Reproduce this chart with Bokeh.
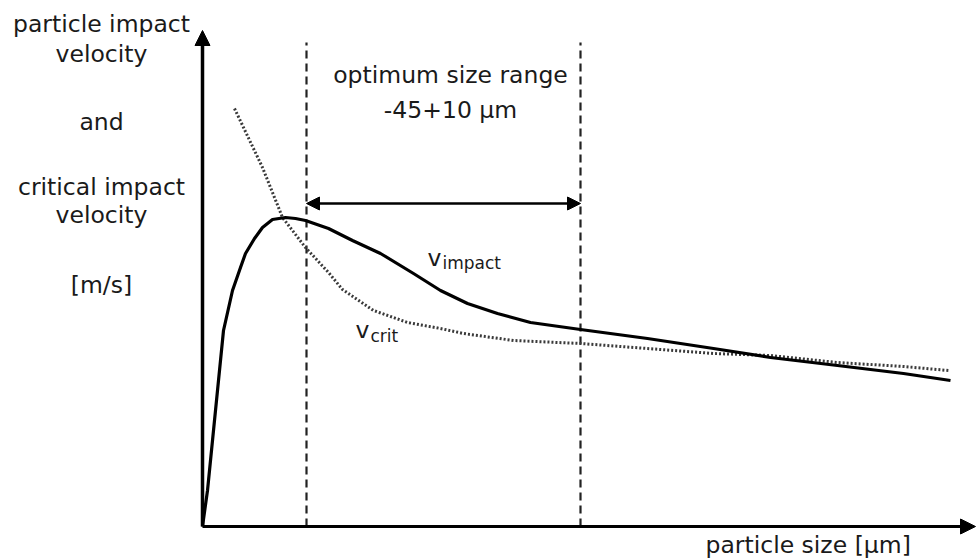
from bokeh.plotting import figure
from bokeh.models import Arrow, NormalHead
from bokeh.core.properties import value
from bokeh.embed import file_html
from bokeh.resources import INLINE

# ---- data (schematic, arbitrary units) ----
size_impact = [0, 5, 12, 21, 30, 38, 43, 52, 60, 70, 83, 93, 103, 126, 150, 178, 211,
               238, 265, 295, 328, 378, 445, 511, 568, 635, 701, 748]
v_impact = [0, 36, 106, 196, 236, 259, 273, 288, 299, 307, 309, 308, 306, 298, 286, 273,
            253, 236, 223, 213, 204, 197, 188, 178, 169, 161, 153, 146]

size_crit = [32, 60, 80, 103, 126, 140, 171, 205, 238, 261, 311, 378, 445, 511,
             568, 635, 701, 746]
v_crit = [418, 359, 309, 279, 254, 237, 216, 204, 198, 193, 186, 183, 178, 173,
          171, 164, 160, 156]

optimum_bounds = [104, 378]      # lower / upper limit of optimum size range
bounds_top = 484
range_arrow_level = 323
x_axis_end = 773
y_axis_end = 496

y_label_lines = ["particle impact", "velocity", "and", "critical impact", "velocity", "[m/s]"]
y_label_levels = [503, 473, 405, 340, 312, 242]
y_label_center = -101

range_text = ["optimum size range", "-45+10 µm"]
range_text_levels = [452, 417]
range_text_center = 248

x_label = "particle size [µm]"
x_label_pos = (503, -18)

v_label_x = [225, 153]
v_label_y = [269, 197]
sub_label_x = [240, 168]
sub_label_y = [264, 191]

FONT = value("DejaVu Sans")
TXT = "#1a1a1a"

p = figure(width=977, height=560, x_range=(-202, 775), y_range=(-34, 526),
           output_backend="svg", toolbar_location=None, min_border=0,
           x_axis_type=None, y_axis_type=None)
p.grid.visible = False
p.outline_line_color = None
p.background_fill_color = "white"
p.border_fill_color = "white"

# axes with arrowheads
p.add_layout(Arrow(end=NormalHead(size=15, fill_color="black", line_color="black"),
                   x_start=0, y_start=0, x_end=0, y_end=y_axis_end,
                   line_width=3.5, line_color="black"))
p.add_layout(Arrow(end=NormalHead(size=15, fill_color="black", line_color="black"),
                   x_start=0, y_start=0, x_end=x_axis_end, y_end=0,
                   line_width=3, line_color="black"))

# optimum size range boundaries
for xb in optimum_bounds:
    p.segment(x0=[xb], y0=[0], x1=[xb], y1=[bounds_top], line_color="#222222",
              line_width=2.2, line_dash="8 5")

# double-headed arrow
p.add_layout(Arrow(start=NormalHead(size=13, fill_color="black", line_color="black"),
                   end=NormalHead(size=13, fill_color="black", line_color="black"),
                   x_start=optimum_bounds[0], y_start=range_arrow_level,
                   x_end=optimum_bounds[1], y_end=range_arrow_level,
                   line_width=2.5, line_color="black"))

# curves
p.line(size_crit, v_crit, line_color="#3a3a3a", line_width=3, line_dash="2 2")
p.line(size_impact, v_impact, line_color="black", line_width=3.2, line_join="round")

# texts
p.text(x=[y_label_center] * len(y_label_lines), y=y_label_levels, text=y_label_lines,
       text_align="center", text_baseline="alphabetic", text_font=FONT,
       text_font_size="23.5px", text_color=TXT)
p.text(x=[range_text_center] * 2, y=range_text_levels, text=range_text,
       text_align="center", text_baseline="alphabetic", text_font=FONT,
       text_font_size="23.5px", text_color=TXT)
p.text(x=[x_label_pos[0]], y=[x_label_pos[1]], text=[x_label],
       text_align="left", text_baseline="alphabetic", text_font=FONT,
       text_font_size="23.5px", text_color=TXT)

# curve labels (v with subscript)
p.text(x=v_label_x, y=v_label_y, text=["v", "v"], text_align="left",
       text_baseline="alphabetic", text_font=FONT, text_font_size="23.5px",
       text_color=TXT)
p.text(x=sub_label_x, y=sub_label_y, text=["impact", "crit"], text_align="left",
       text_baseline="alphabetic", text_font=FONT, text_font_size="17px",
       text_color=TXT)

open("out.html", "w").write(file_html(p, INLINE))
